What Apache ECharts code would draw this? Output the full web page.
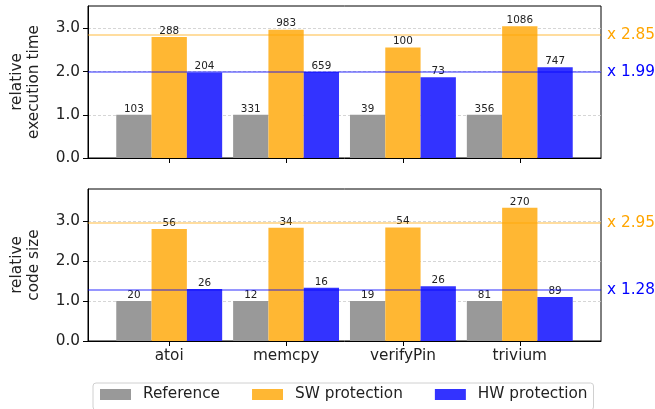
<!DOCTYPE html>
<html><head><meta charset="utf-8">
<script src="https://cdn.jsdelivr.net/npm/echarts@6/dist/echarts.min.js"></script>
<style>html,body{margin:0;padding:0;background:#fff}#c{width:655px;height:409px}</style>
</head><body><div id="c"></div>
<script>
const categories = ['atoi', 'memcpy', 'verifyPin', 'trivium'];
const seriesNames = ['Reference', 'SW protection', 'HW protection'];
// relative execution time
const timeRef = [1, 1, 1, 1];
const timeSW = [2.80, 2.97, 2.56, 3.05];
const timeHW = [1.98, 1.99, 1.87, 2.10];
const timeRefLabels = [103, 331, 39, 356];
const timeSWLabels = [288, 983, 100, 1086];
const timeHWLabels = [204, 659, 73, 747];
const timeMeanSW = 2.85, timeMeanHW = 1.99;
// relative code size
const sizeRef = [1, 1, 1, 1];
const sizeSW = [2.80, 2.83, 2.84, 3.33];
const sizeHW = [1.30, 1.33, 1.37, 1.10];
const sizeRefLabels = [20, 12, 19, 81];
const sizeSWLabels = [56, 34, 54, 270];
const sizeHWLabels = [26, 16, 26, 89];
const sizeMeanSW = 2.95, sizeMeanHW = 1.28;
const yTicks = [0, 1, 2, 3];
const xTicks = [0, 1, 2, 3];

const FONT = 'DejaVu Sans';
const FS = 15.3;
const colors = ['#999999', '#FFB733', '#3333FF'];

function pairs(vals) { return vals.map((v, i) => [i, v]); }

function barSeries(name, idx, vals, labels, colorIdx, mean, meanColor, lineColor) {
  const s = {
    name: name, type: 'bar', xAxisIndex: idx, yAxisIndex: idx,
    data: pairs(vals), barWidth: 35.3, barGap: '0%',
    itemStyle: { color: colors[colorIdx] },
    label: { show: true, position: 'top', distance: 1, color: '#222', fontSize: 10.4, fontFamily: FONT,
      formatter: p => String(labels[p.dataIndex]) },
    emphasis: { disabled: true }, animation: false
  };
  if (mean !== undefined) {
    s.markLine = {
      silent: true, symbol: 'none', animation: false,
      data: [{ yAxis: mean }],
      lineStyle: { color: lineColor, width: 1.6, type: 'solid' },
      label: { show: true, position: 'end', distance: 6, formatter: 'x ' + mean.toFixed(2),
        color: meanColor, fontSize: FS, fontFamily: FONT }
    };
  }
  return s;
}

function xAxis(idx, showLabels) {
  return {
    type: 'value', gridIndex: idx, min: -0.695, max: 3.695,
    axisLine: { show: true, onZero: false, lineStyle: { color: '#000', width: 1 } },
    axisTick: { show: true, length: 5, customValues: xTicks, lineStyle: { color: '#000' } },
    axisLabel: { show: showLabels, customValues: xTicks, formatter: v => categories[Math.round(v)] || '',
      color: '#222', fontSize: FS, fontFamily: FONT, margin: 8 },
    splitLine: { show: false }
  };
}
function yAxis(idx, max, name) {
  return {
    type: 'value', gridIndex: idx, min: 0, max: max, interval: 1,
    name: name, nameLocation: 'middle', nameGap: 45, nameRotate: 90,
    nameTextStyle: { fontSize: FS, fontFamily: FONT, color: '#222', lineHeight: 17.5 },
    axisLine: { show: true, onZero: false, lineStyle: { color: '#000', width: 1 } },
    axisTick: { show: true, length: 5, customValues: yTicks, lineStyle: { color: '#000' } },
    axisLabel: { customValues: yTicks, formatter: v => v.toFixed(1), color: '#222', fontSize: FS, fontFamily: FONT, margin: 8 },
    splitLine: { show: true, lineStyle: { color: '#cccccc', type: [3, 2], width: 0.8 } }
  };
}

const option = {
  animation: false,
  textStyle: { fontFamily: FONT },
  grid: [
    { left: 86, right: 54, top: 6, height: 152, show: true, borderColor: '#000', borderWidth: 1, backgroundColor: 'transparent' },
    { left: 86, right: 54, top: 189, height: 152, show: true, borderColor: '#000', borderWidth: 1, backgroundColor: 'transparent' }
  ],
  xAxis: [xAxis(0, false), xAxis(1, true)],
  yAxis: [yAxis(0, 3.52, 'relative\nexecution time'), yAxis(1, 3.8, 'relative\ncode size')],
  legend: {
    left: 93, top: 383, width: 540,
    data: seriesNames, icon: 'rect', itemWidth: 31, itemHeight: 11, itemGap: 32,
    padding: [4, 6, 8, 7],
    borderColor: '#d0d0d0', borderWidth: 1, borderRadius: 3,
    textStyle: { fontSize: FS, fontFamily: FONT, color: '#222', padding: [0, 0, 0, 7] },
    selectedMode: false
  },
  series: [
    barSeries(seriesNames[0], 0, timeRef, timeRefLabels, 0),
    barSeries(seriesNames[1], 0, timeSW, timeSWLabels, 1, timeMeanSW, '#FFA500', 'rgba(255,165,0,0.5)'),
    barSeries(seriesNames[2], 0, timeHW, timeHWLabels, 2, timeMeanHW, '#0000FF', 'rgba(0,0,255,0.55)'),
    barSeries(seriesNames[0], 1, sizeRef, sizeRefLabels, 0),
    barSeries(seriesNames[1], 1, sizeSW, sizeSWLabels, 1, sizeMeanSW, '#FFA500', 'rgba(255,165,0,0.5)'),
    barSeries(seriesNames[2], 1, sizeHW, sizeHWLabels, 2, sizeMeanHW, '#0000FF', 'rgba(0,0,255,0.55)')
  ]
};
const chart = echarts.init(document.getElementById('c'), null, { renderer: 'canvas' });
chart.setOption(option);
</script></body></html>
